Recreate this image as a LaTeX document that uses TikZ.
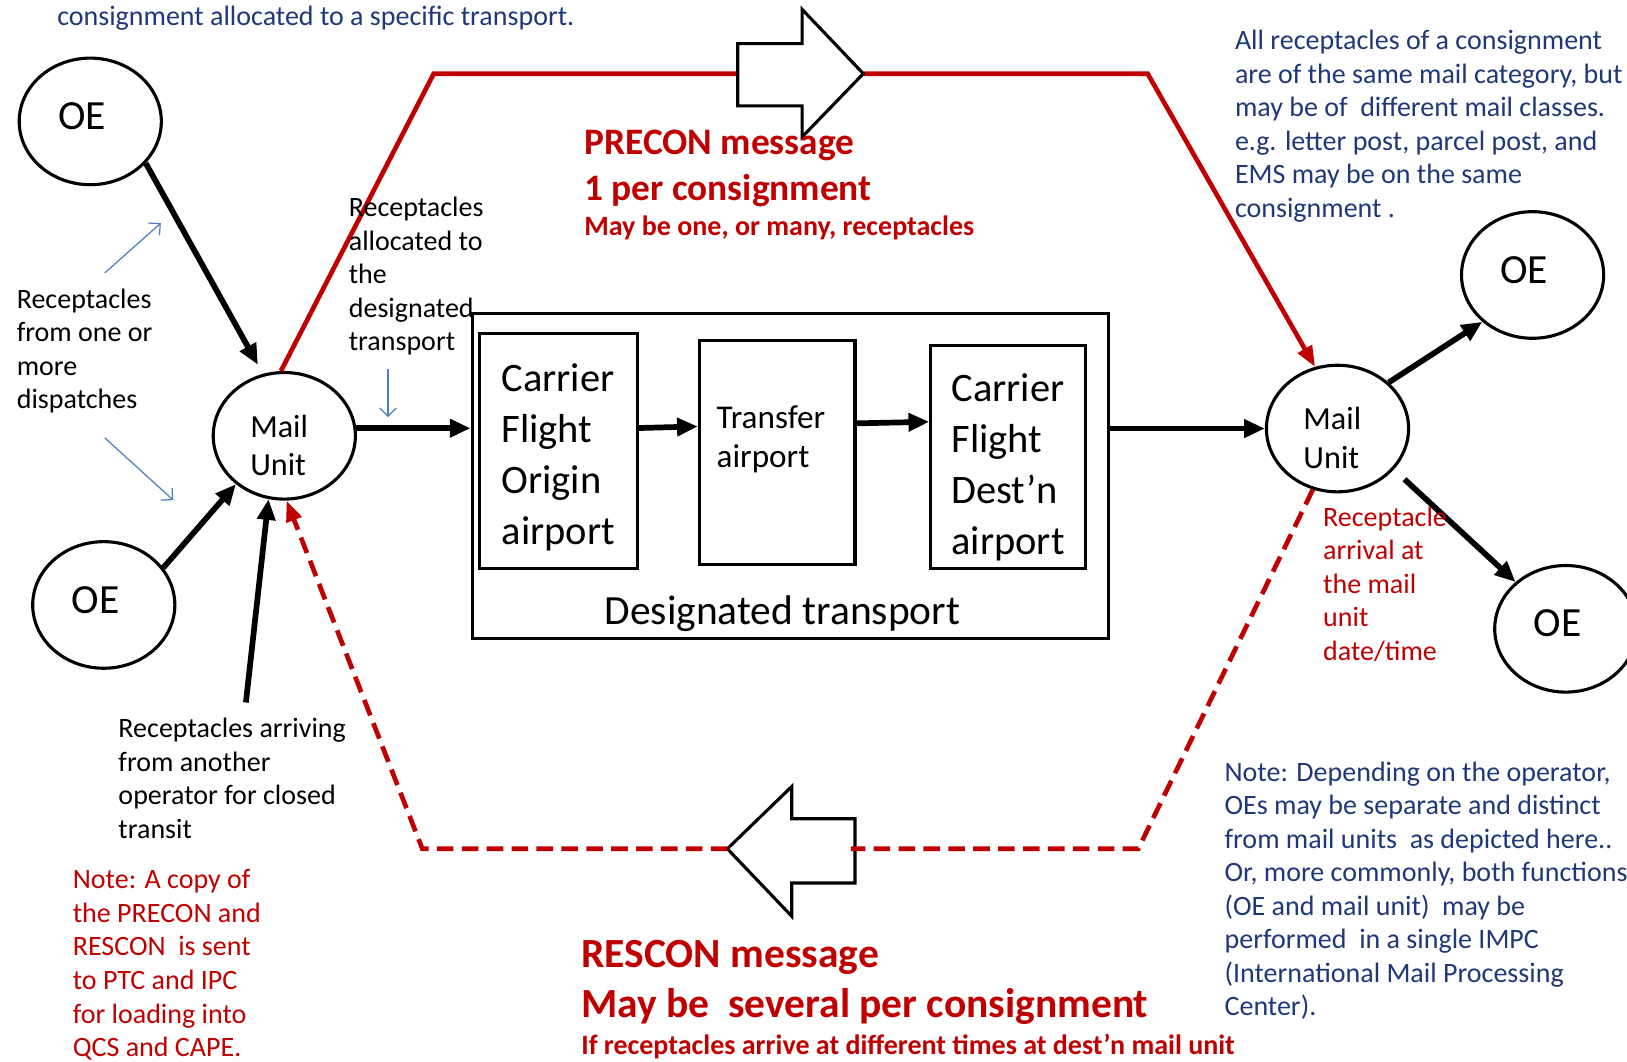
\documentclass[tikz,border=0pt]{standalone}
\usepackage{fontspec}
\setmainfont{Carlito}
\usetikzlibrary{shapes.geometric,arrows.meta,calc}
\definecolor{navy}{RGB}{31,56,120}
\definecolor{mred}{RGB}{192,0,0}
\definecolor{lblue}{RGB}{79,129,189}
\newcommand\fsz[2]{\fontsize{#1}{#2}\selectfont}

\begin{document}
\begin{tikzpicture}[x=1pt,y=-1pt,
  oval/.style={draw=black,line width=3pt,ellipse,inner sep=0pt,
    minimum width=137pt,minimum height=122pt},
  oelabel/.style={inner sep=0pt,font=\fsz{40}{48},xshift=-8pt,yshift=5pt},
  mulabel/.style={inner sep=0pt,font=\fsz{31}{37},align=left,xshift=-5pt,yshift=-9pt},
  oe/.style={oval,label={[oelabel]center:OE}},
  mu/.style={oval,label={[mulabel]center:Mail\\Unit}},
  box/.style={draw=black,line width=3pt,inner sep=0pt},
  boxtext/.style={inner sep=0pt,align=left,font=\fsz{39}{49}},
  flow/.style={line width=5.5pt,-{Triangle[length=20pt,width=17pt]}},
  precon/.style={draw=mred,line width=4.5pt},
  rescon/.style={draw=mred,line width=4.5pt,dash pattern=on 16pt off 8pt},
  redtip/.style={-{Triangle[length=20pt,width=15pt]}},
  bigarrow/.style={draw=black,line width=3pt,fill=white,line join=miter},
  hint/.style={draw=lblue,line width=1.2pt,-{Straight Barb[length=8pt,width=16pt]}},
  txt/.style={inner sep=0pt,align=left,font=\fsz{27}{32.3}},
  head/.style={inner sep=0pt,anchor=base west,text=mred,font=\bfseries\fsz{36}{40}},
  bighead/.style={inner sep=0pt,anchor=base west,text=mred,font=\bfseries\fsz{40}{46}},
  subhead/.style={inner sep=0pt,anchor=base west,text=mred,font=\bfseries\fsz{27}{30}}
]
\useasboundingbox (0,0) rectangle (1568,1023);
\fill[white] (0,0) rectangle (1568,1023);

% offices of exchange and mail units
\node[oe] (oe1) at (87,117) {};
\node[oe] (oe2) at (100,583) {};
\node[mu] (mu1) at (274,420) {};
\node[mu] (mu2) at (1289,413) {};
\node[oe] (oe3) at (1477,265) {};
\node[oe] (oe4) at (1509,606) {};

% designated transport and its legs
\node[box,minimum width=613pt,minimum height=313pt] (dt) at (761.5,458.5) {};
\node[box,minimum width=152pt,minimum height=227pt,
  label={[boxtext,yshift=-6pt]center:Carrier\\Flight\\Origin\\airport}] (b1) at (538,434.5) {};
\node[box,minimum width=150pt,minimum height=216pt] (b2) at (749,436) {};
\node[anchor=north west,inner sep=0pt,align=left,font=\fsz{32}{38}] (b2t)
  at ([xshift=18pt,yshift=-64pt]b2.north west) {Transfer\\airport};
\node[box,minimum width=149pt,minimum height=215pt,
  label={[boxtext,yshift=-10pt]center:Carrier\\Flight\\Dest’n\\airport}] (b3) at (971.5,440.5) {};
\node[inner sep=0pt,font=\fsz{40}{46}] (dtl) at (754,591) {Designated transport};

% flow of receptacles
\coordinate (closed) at (237,677);
\draw[flow] (oe1.-37) -- (mu1.109) [shorten >=10pt];
\draw[flow] (oe2.32) -- (mu1.-135);
\draw[flow] (closed) -- (mu1.-104);
\draw[flow] (mu1.6) -- (mu1.6 -| dt.west);
\draw[flow] ([yshift=22pt]b1.east) -- ([yshift=25pt]b2.west);
\draw[flow] ([yshift=28pt]b2.east) -- ([yshift=34pt]b3.west);
\draw[flow] (mu2.west -| dt.east) -- (mu2.west);
\draw[flow] (mu2.42) -- (oe3.-137);
\draw[flow,shorten <=14pt] (mu2.-36) -- (oe4.137);

% PRECON message path
\coordinate (pc1) at (418,71);
\coordinate (ptail) at (711,71);
\coordinate (ptip) at (832,71);
\coordinate (pc2) at (1106,71);
\draw[precon] (mu1.93) -- (pc1) -- (ptail);
\draw[precon,redtip] (ptip) -- (pc2) -- (mu2.110);
\draw[bigarrow,shift={(ptail)}] (0,-29) -- (62,-29) -- (62,-62) -- (121,0)
  -- (62,61) -- (62,31) -- (0,31) -- cycle;

% RESCON message path
\coordinate (rtip) at (701,818);
\coordinate (rtail) at (824,818);
\coordinate (rc1) at (1097,818);
\coordinate (rc2) at (407,818);
\draw[bigarrow,shift={(rtip)}] (0,0) -- (62,-60) -- (62,-29) -- (123,-29)
  -- (123,33) -- (62,33) -- (62,65) -- cycle;
\draw[rescon] (mu2.-112) -- (rc1) -- ([xshift=-4pt]rtail);
\draw[rescon,redtip] (rtip) -- (rc2) -- (mu1.-88);

% explanatory pointers
\coordinate (h1a) at (101,263); \coordinate (h1b) at (155,215);
\coordinate (h2a) at (101,422); \coordinate (h2b) at (167,482);
\coordinate (h3a) at (374,356); \coordinate (h3b) at (374,402);
\draw[hint] (h1a) -- (h1b);
\draw[hint] (h2a) -- (h2b);
\draw[hint] (h3a) -- (h3b);

% annotations
\node[txt,anchor=base west,text=navy] (topnote) at (55,25)
  {consignment allocated to a specific transport.};
\node[txt,anchor=north west] (rfrom) at (16,278)
  {Receptacles\\from one or\\more\\dispatches};
\node[txt,anchor=north west] (ralloc) at (336,190)
  {Receptacles\\allocated to\\the\\designated\\transport};
\node[head] (pm1) at (563,149) {PRECON message};
\node[head] (pm2) at (563,193) {1 per consignment};
\node[subhead] (pm3) at (563,227) {May be one, or many, receptacles};
\node[txt,anchor=north west,text=navy] (samecat) at (1190,29)
  {All receptacles of a consignment\\are of the same mail category, but\\may be of\ \ different mail classes.\\e.g. letter post, parcel post, and\\EMS may be on the same\\consignment .};
\node[txt,anchor=north west,text=mred] (arrival) at (1275,488)
  {Receptacle\\arrival at\\the mail\\unit\\date/time};
\node[txt,anchor=north west] (other) at (114,692)
  {Receptacles arriving\\from another\\operator for closed\\transit};
\node[txt,anchor=north west,text=mred] (copy) at (70,838)
  {Note: A copy of\\the PRECON and\\RESCON\ \ is sent\\to PTC and IPC\\for loading into\\QCS and CAPE.};
\node[txt,anchor=north west,text=navy] (depend) at (1180,734)
  {Note: Depending on the operator,\\OEs may be separate and distinct\\from mail units\ \ as depicted here..\\Or, more commonly, both functions\\(OE and mail unit)\ \ may be\\performed\ \ in a single IMPC\\(International Mail Processing\\Center).};
\node[bighead] (rm1) at (560,932) {RESCON message};
\node[bighead] (rm2) at (560,981) {May be\ \ several per consignment};
\node[subhead] (rm3) at (560,1016) {If receptacles arrive at different times at dest’n mail unit};
\end{tikzpicture}
\end{document}
